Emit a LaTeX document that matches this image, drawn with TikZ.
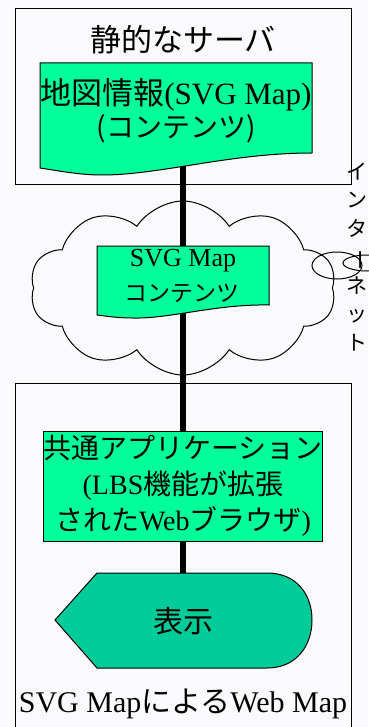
\documentclass[tikz,border=0pt]{standalone}
\usepackage{fontspec}
\setmainfont{Liberation Serif}
\newfontfamily\jp{Noto Sans CJK JP}
\newcommand{\ja}[1]{{\jp #1}}
\usepackage{tikz}
\usetikzlibrary{shapes, positioning}

\definecolor{paper}{RGB}{250,250,253}
\definecolor{mint}{RGB}{0,255,153}
\definecolor{dispgreen}{RGB}{0,204,153}

\tikzset{
    frame/.style={draw, line width=1pt},
    sheet/.style={draw, line width=1pt, fill=mint},
    bus/.style={line width=6.5pt},
    txt/.style={inner sep=0pt, align=center},
    bubble/.style={ellipse, draw, line width=1pt, inner sep=0pt},
}

\begin{document}
\begin{tikzpicture}[x=1pt, y=-1pt]
        \fill[paper] (0,0) rectangle (368,727);
        \useasboundingbox (0,0) rectangle (368,727);

        % the internet
        \node[cloud, draw, line width=1pt, cloud puffs=10, cloud puff arc=115, cloud ignores aspect, minimum width=306pt, minimum height=174pt] (net) at (183,288) {};
        \node[bubble, minimum width=50pt, minimum height=27pt] (bubA) at (337,265.5) {};
        \node[bubble, minimum width=48pt, minimum height=16pt] (bubB) at (367,263) {};
        \node[txt, font=\fontsize{21}{28.5}\selectfont\jp] (inet) at (357,257) {イ\\ン\\タ\\\rotatebox[origin=c]{-90}{ー}\\ネ\\ッ\\ト};

        \coordinate (busTop) at (183,165);
        \coordinate (busEnd) at (183,575);
        \draw[bus] (busTop) -- (busEnd);

        % static server
        \node[frame, minimum width=336pt, minimum height=176pt] (server) at (183,97) {};
        \node[txt, font=\fontsize{31}{36}\selectfont] (srv) at (183,40) {\ja{静的なサーバ}};
        \draw[sheet] (40,63) -- (312,63) -- (312,153)
            .. controls (230,153) and (160,175) .. (102,175)
            .. controls (80,175) and (60,171) .. (40,168) -- cycle;
        \node[txt, font=\fontsize{31}{33}\selectfont] (mapdoc) at (176,95) {\ja{地図情報}(SVG Map)};
        \node[txt, font=\fontsize{28}{33}\selectfont\jp] (mapsub) at (176,129) {(コンテンツ)};

        % content on the net
        \draw[sheet] (97,246) -- (269,246) -- (269,305)
            .. controls (215,304) and (170,319) .. (132,318)
            .. controls (117,318) and (106,316) .. (97,315) -- cycle;
        \node[txt, font=\fontsize{26}{30}\selectfont] (netdoc) at (183,261) {SVG Map};
        \node[txt, font=\fontsize{23}{30}\selectfont\jp] (netsub) at (182,293) {コンテンツ};

        % client
        \draw[frame] (15,740) -- (15,383) -- (351,383) -- (351,740);
        \node[sheet, txt, minimum width=272pt, minimum height=110pt, font=\fontsize{28}{36}\selectfont] (app) at (183,486)
            {\ja{共通アプリケーション}\\(LBS\ja{機能が拡張}\\\ja{された}Web\ja{ブラウザ})};
        \draw[line width=1pt, fill=dispgreen] (55,620) -- (97,573) -- (267,573)
            .. controls (297,573) and (312,595) .. (312,620)
            .. controls (312,645) and (297,668) .. (267,668) -- (97,668) -- cycle;
        \node[txt, font=\fontsize{30}{36}\selectfont\jp] (disp) at (183,621) {表示};
        \node[txt, font=\fontsize{30}{36}\selectfont] (caption) at (183,704) {SVG Map\ja{による}Web Map};
\end{tikzpicture}
\end{document}
